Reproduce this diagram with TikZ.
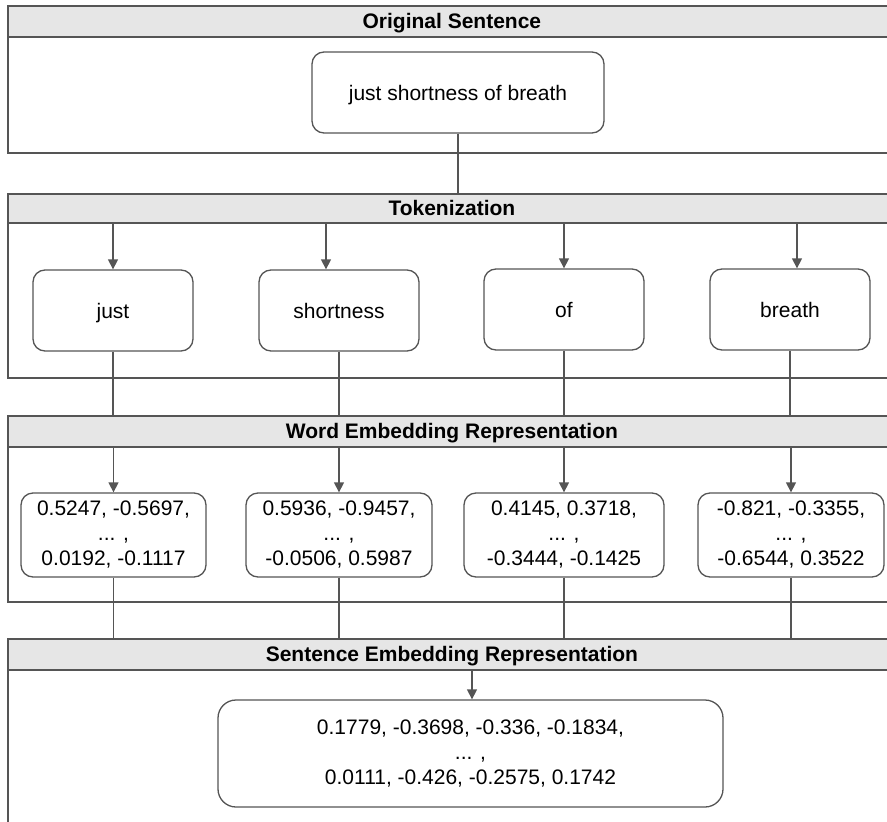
\documentclass[tikz,border=0pt]{standalone}
\usepackage{fontspec}
\setmainfont{Liberation Sans}
\usetikzlibrary{arrows.meta}
\definecolor{hdrfill}{HTML}{E6E6E6}
\definecolor{ln}{HTML}{555555}
\begin{document}
\begin{tikzpicture}[x=1pt,y=-1pt,
 lane/.style={draw=ln, line width=1.8pt, anchor=north west, minimum width=888pt, inner sep=0pt},
 hdr/.style={draw=ln, fill=hdrfill, line width=1.8pt, anchor=north west, minimum width=888pt, minimum height=31pt, inner sep=0pt, text height=15pt, text depth=0pt, font=\fontsize{21}{25}\selectfont\bfseries},
 box/.style={draw=ln, rounded corners=12pt, line width=1.3pt, align=center, inner sep=0pt, font=\fontsize{21}{25}\selectfont, fill=white},
 onebox/.style={box, text height=15pt, text depth=0pt},
 conn/.style={draw=ln, line width=1.3pt},
 arr/.style={conn, -{Triangle[length=10pt,width=10pt]}}]
\useasboundingbox (0,0) rectangle (887,822);
\begin{scope}
\clip (0,0) rectangle (887,822);
% lanes
\node[lane, minimum height=147pt] (l1) at (7,5) {};
\node[lane, minimum height=184pt] (l2) at (7,193) {};
\node[lane, minimum height=186pt] (l3) at (7,415) {};
\node[lane, minimum height=260pt] (l4) at (7,638) {};
\node[hdr] (h1) at (7,5) {Original Sentence};
\node[hdr, minimum height=29pt] (h2) at (7,193) {Tokenization};
\node[hdr] (h3) at (7,415) {Word Embedding Representation};
\node[hdr] (h4) at (7,638) {Sentence Embedding Representation};
% original
\node[onebox, minimum width=292pt, minimum height=81pt] (orig) at (458,92.5) {just shortness of breath};
% tokens
\node[onebox, minimum width=160pt, minimum height=81pt] (t1) at (113,310.5) {just};
\node[onebox, minimum width=160pt, minimum height=81pt] (t2) at (339,310.5) {shortness};
\node[onebox, minimum width=160pt, minimum height=81pt] (t3) at (564,309.5) {of};
\node[onebox, minimum width=160pt, minimum height=81pt] (t4) at (790,309.5) {breath};
% embeddings
\node[box, minimum width=185pt, minimum height=84pt] (e1) at (113.5,535) {0.5247, -0.5697,\\ ... ,\\ 0.0192, -0.1117};
\node[box, minimum width=186pt, minimum height=84pt] (e2) at (339,535) {0.5936, -0.9457,\\ ... ,\\ -0.0506, 0.5987};
\node[box, minimum width=200pt, minimum height=84pt] (e3) at (564,535) {0.4145, 0.3718,\\ ... ,\\ -0.3444, -0.1425};
\node[box, minimum width=186pt, minimum height=84pt] (e4) at (791,535) {-0.821, -0.3355,\\ ... ,\\ -0.6544, 0.3522};
% sentence embedding
\node[box, rounded corners=18pt, minimum width=505pt, minimum height=107pt] (fin) at (470.5,753.5) {0.1779, -0.3698, -0.336, -0.1834,\\ ... ,\\ 0.0111, -0.426, -0.2575, 0.1742};
% connectors
\draw[conn] (orig.south) -- (orig.south |- h2.north);
\draw[arr] (t1.north |- h2.south) -- (t1.north);
\draw[arr] ([xshift=-13pt]t2.north |- h2.south) -- ([xshift=-13pt]t2.north);
\draw[arr] (t3.north |- h2.south) -- (t3.north);
\draw[arr] ([xshift=7pt]t4.north |- h2.south) -- ([xshift=7pt]t4.north);
\draw[conn] (t1.south) -- (t1.south |- h3.north);
\draw[conn] (t2.south) -- (t2.south |- h3.north);
\draw[conn] (t3.south) -- (t3.south |- h3.north);
\draw[conn] (t4.south) -- (t4.south |- h3.north);
\draw[arr] (e1.north |- h3.south) -- (e1.north);
\draw[arr] (e2.north |- h3.south) -- (e2.north);
\draw[arr] (e3.north |- h3.south) -- (e3.north);
\draw[arr] (e4.north |- h3.south) -- (e4.north);
\draw[conn] (e1.south) -- (e1.south |- h4.north);
\draw[conn] (e2.south) -- (e2.south |- h4.north);
\draw[conn] (e3.south) -- (e3.south |- h4.north);
\draw[conn] (e4.south) -- (e4.south |- h4.north);
\draw[arr] ([xshift=1.5pt]fin.north |- h4.south) -- ([xshift=1.5pt]fin.north);
\end{scope}
\end{tikzpicture}
\end{document}
